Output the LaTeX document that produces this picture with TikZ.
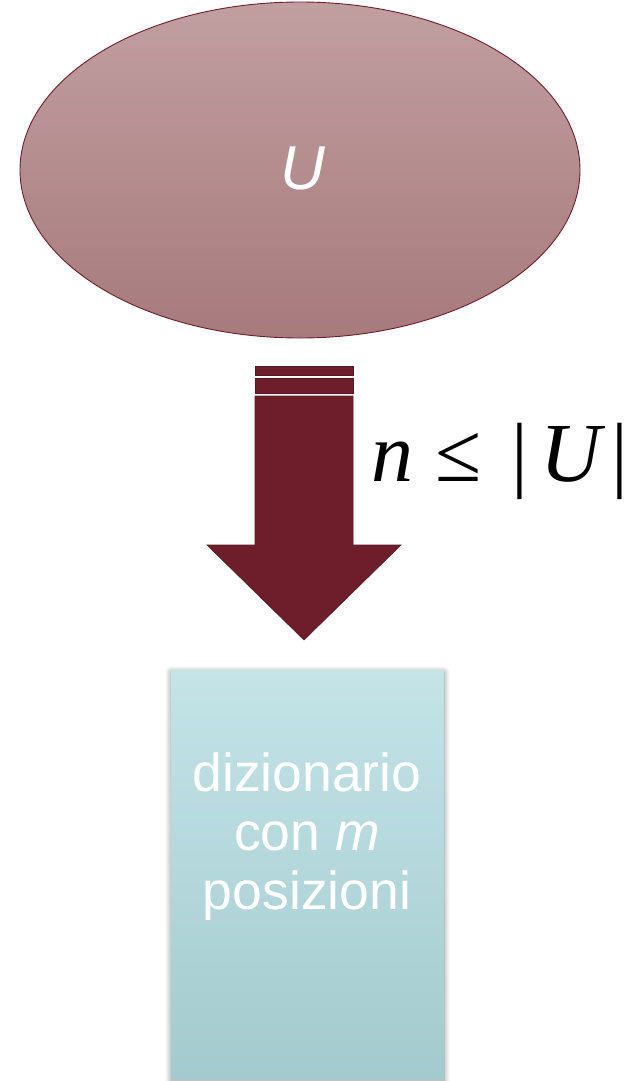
\documentclass[tikz,border=0pt]{standalone}
\usepackage{fontspec}
\setmainfont{Liberation Sans}
\newfontfamily\tnr{Liberation Serif}
\usetikzlibrary{shapes.geometric,shadows.blur}
\definecolor{arrowred}{HTML}{6E1E2A}
\definecolor{ellTop}{HTML}{C19FA1}
\definecolor{ellBot}{HTML}{A77A7C}
\definecolor{boxTop}{HTML}{C4E4E7}
\definecolor{boxBot}{HTML}{A3CACE}
\tikzset{
  universe/.style={ellipse, draw=arrowred, line width=0.9pt, top color=ellTop, bottom color=ellBot,
    minimum width=560pt, minimum height=336pt, inner sep=0pt},
  dictbox/.style={rectangle, top color=boxTop, bottom color=boxBot, minimum width=273pt, minimum height=409pt,
    inner sep=0pt, blur shadow={shadow xshift=0pt, shadow yshift=-2pt, shadow blur radius=6pt, shadow blur steps=10, shadow blur extra rounding=0pt, shadow opacity=45}},
  bigarrow/.style={fill=arrowred, draw=arrowred!80!black, line width=0.6pt},
  whitetext/.style={text=white, font=\fontsize{53.5}{59}\selectfont, align=center}
}
\begin{document}
\begin{tikzpicture}[x=1pt,y=-1pt]
\useasboundingbox (0,0) rectangle (634,1081);
\node[universe] (U) at (300,170) {};
\node[text=white, font=\fontsize{62}{62}\selectfont\itshape] (Ulabel) at (303,168) {U};
% arrow
\draw[bigarrow] (255,366) rectangle (353,375);
\draw[bigarrow] (255,378) rectangle (353,393);
\draw[bigarrow] (255,396) -- (353,396) -- (353,545) -- (401,545) -- (304,640) -- (207,545) -- (255,545) -- cycle;
\node[anchor=west, inner sep=0pt, font=\tnr\fontsize{84}{84}\selectfont] (cond) at (371,461) {\textit{n}\hspace{22pt}≤\hspace{30pt}|\hspace{12pt}\textit{U}\hspace{6pt}|};
\node[dictbox] (D) at (307.5,874.5) {};
\node[whitetext] (Dtext) at (307,837) {dizionario\\con \textit{m}\\posizioni};
\end{tikzpicture}
\end{document}
